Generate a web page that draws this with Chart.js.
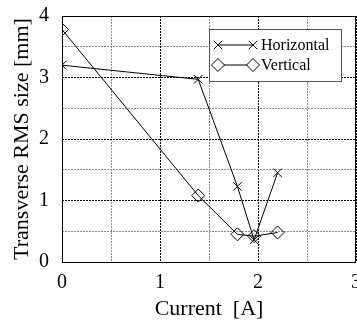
<!DOCTYPE html>
<html>
<head>
<meta charset="utf-8">
<script src="https://cdn.jsdelivr.net/npm/chart.js@4/dist/chart.umd.min.js"></script>
<style>
  body { margin: 0; background: white; }
  #caja { width: 357px; height: 320px; }
</style>
</head>
<body>
<div id="caja"><canvas id="grafica" width="357" height="320"></canvas></div>
<script>
// datos
const corriente = [0, 1.39, 1.79, 1.96, 2.2];      // Current [A]
const horizontal = [3.2, 2.97, 1.23, 0.36, 1.45];  // Horizontal RMS [mm]
const vertical = [3.78, 1.08, 0.45, 0.42, 0.48];   // Vertical RMS [mm]
const etiquetas = ["Horizontal", "Vertical"];
const fuente = "'Liberation Serif', 'Times New Roman', serif";

document.addEventListener("DOMContentLoaded", function(event) {
    GraficoRMS();
});

//----------------------------------------------------------------------------
function puntos(xs, ys) {
    return xs.map((x, i) => ({x: x, y: ys[i]}));
}

// marcador a mano para la leyenda
function marcador(ctx, tipo, x, y, r) {
    ctx.beginPath();
    if (tipo === 'crossRot') {
        const d = r * Math.SQRT1_2;
        ctx.moveTo(x - d, y - d); ctx.lineTo(x + d, y + d);
        ctx.moveTo(x - d, y + d); ctx.lineTo(x + d, y - d);
        ctx.stroke();
    } else {
        ctx.moveTo(x - r, y); ctx.lineTo(x, y - r);
        ctx.lineTo(x + r, y); ctx.lineTo(x, y + r);
        ctx.closePath();
        ctx.fillStyle = 'white';
        ctx.fill();
        ctx.stroke();
    }
}

function GraficoRMS(){
const ctx = document.getElementById('grafica');

const datosHor = {
    label: etiquetas[0],
    data: puntos(corriente, horizontal),
    showLine: true,
    borderColor: 'black',
    borderWidth: 1,
    pointStyle: 'crossRot',
    pointRadius: 6,
    pointBorderColor: 'black',
    pointBorderWidth: 1,
};
const datosVer = {
    label: etiquetas[1],
    data: puntos(corriente, vertical),
    showLine: true,
    borderColor: 'black',
    borderWidth: 1,
    pointStyle: 'rectRot',
    pointRadius: 6.5,
    pointBackgroundColor: 'rgba(255,255,255,0)',
    pointBorderColor: 'black',
    pointBorderWidth: 1,
};

// fondo blanco + marco del area
const marco = {
    id: 'marco',
    beforeDraw: (chart) => {
        const c = chart.ctx;
        c.save();
        c.fillStyle = 'white';
        c.fillRect(0, 0, chart.width, chart.height);
        c.restore();
    },
    afterDatasetsDraw: (chart) => {
        const a = chart.chartArea;
        const c = chart.ctx;
        c.save();
        c.strokeStyle = 'black';
        c.lineWidth = 1;
        c.strokeRect(a.left + 0.5, a.top + 0.5, a.right - a.left - 1, a.bottom - a.top);
        c.restore();
    }
};

// leyenda con caja dentro del grafico
const leyenda = {
    id: 'leyenda',
    afterDraw: (chart) => {
        const c = chart.ctx;
        const x0 = 209, y0 = 29, w = 132, h = 52;
        c.save();
        c.fillStyle = 'white';
        c.fillRect(x0, y0, w, h);
        c.strokeStyle = '#555';
        c.lineWidth = 1;
        c.strokeRect(x0 + 0.5, y0 + 0.5, w, h);
        const tipos = ['crossRot', 'rectRot'];
        c.font = '16px ' + fuente;
        c.textBaseline = 'middle';
        for (let i = 0; i < 2; i++) {
            const y = y0 + 16 + i * 20;
            c.strokeStyle = 'black';
            c.beginPath();
            c.moveTo(218, y); c.lineTo(253, y);
            c.stroke();
            marcador(c, tipos[i], 218, y, i === 0 ? 6 : 6.5);
            marcador(c, tipos[i], 253, y, i === 0 ? 6 : 6.5);
            c.fillStyle = 'black';
            c.fillText(etiquetas[i], 261, y + 1);
        }
        c.restore();
    }
};

const colorRejilla = (context) => {
    const v = context.tick ? context.tick.value : 0;
    return Number.isInteger(v) ? 'black' : '#8c8c8c';
};
const soloEnteros = (valor) => Number.isInteger(valor) ? valor : '';

const myChart = new Chart(ctx, {
    type: 'scatter',
    data: { datasets: [datosHor, datosVer] },
    plugins: [marco, leyenda],
    options: {
        responsive: false,
        animation: false,
        layout: { autoPadding: false, padding: { top: 16, right: 1, left: 0, bottom: 0 } },
        plugins: { legend: { display: false }, tooltip: { enabled: false } },
        scales: {
            x: {
                min: 0, max: 3,
                ticks: { stepSize: 0.5, callback: soloEnteros, color: 'black', padding: 9,
                         maxRotation: 0, autoSkip: false, font: { family: fuente, size: 20 } },
                grid: { color: colorRejilla, lineWidth: 1, drawTicks: false },
                border: { display: false, dash: [2, 1] },
                title: { display: true, text: 'Current  [A]', color: 'black',
                         padding: { top: 0, bottom: 0 }, font: { family: fuente, size: 22, lineHeight: 1 } },
                afterFit: (s) => { s.height = 58; s.paddingLeft = 0; s.paddingRight = 0; }
            },
            y: {
                min: 0, max: 4,
                ticks: { stepSize: 0.5, callback: soloEnteros, color: 'black', padding: 13,
                         autoSkip: false, font: { family: fuente, size: 20 } },
                grid: { color: colorRejilla, lineWidth: 1, drawTicks: false },
                border: { display: false, dash: [2, 1] },
                title: { display: true, text: 'Transverse RMS size [mm]', color: 'black',
                         padding: { top: 9, bottom: 4 }, font: { family: fuente, size: 22 } },
                afterFit: (s) => { s.width = 62; s.paddingTop = 0; s.paddingBottom = 0; }
            }
        }
    }
});
};
//----------------------------------------------------------------------------
</script>
</body>
</html>
